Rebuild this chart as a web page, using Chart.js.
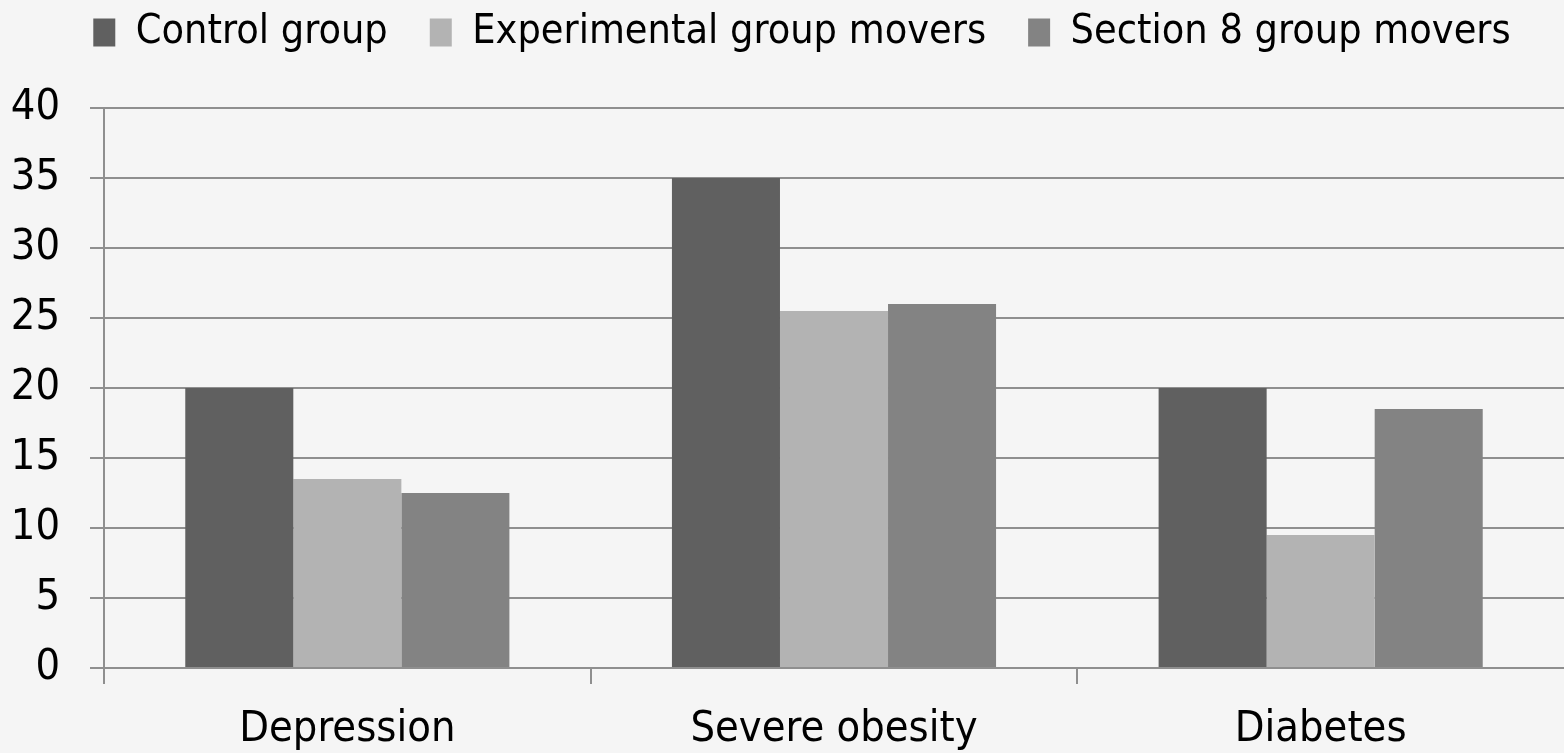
<!DOCTYPE html>
<html>
<head>
<meta charset="utf-8">
<title>Health outcomes by group</title>
<script src="https://cdn.jsdelivr.net/npm/chart.js@4.4.1/dist/chart.umd.min.js"></script>
<style>
  html, body { margin: 0; padding: 0; background: #f5f5f5; }
  #wrap { width: 1564px; height: 753px; position: relative; }
</style>
</head>
<body>
<div id="wrap"><canvas id="barChart"></canvas></div>
<script>
const categories = ['Depression', 'Severe obesity', 'Diabetes'];
const seriesNames = ['Control group', 'Experimental group movers', 'Section 8 group movers'];
const controlData = [20, 35, 20];
const experimentalData = [13.5, 25.5, 9.5];
const section8Data = [12.5, 26, 18.5];
const yTicks = [0, 5, 10, 15, 20, 25, 30, 35, 40];

const barColors = ['#606060', '#b3b3b3', '#838383'];
const gridColor = '#8f8f8f';
const fontFamily = '"DejaVu Sans Condensed", "Liberation Sans Narrow", "Open Sans", sans-serif';
const fontSize = 43;

// legend has no margin option, so pad its box after it measures itself;
// also nudge the row to the right a bit like the original
const legendGap = {
  id: 'legendGap',
  beforeInit(chart) {
    const origFit = chart.legend.fit;
    chart.legend.fit = function fit() {
      origFit.bind(chart.legend)();
      this.height += 45;
      this.lineWidths = this.lineWidths.map(w => w - 40);
    };
  }
};

// no tick mark on the far right edge (that line gets the scale context, not a tick one)
const xTickColor = (c) => (c.type === 'scale' || c.index >= categories.length ? 'rgba(0,0,0,0)' : gridColor);

window.addEventListener('DOMContentLoaded', () => {
  const ctx = document.getElementById('barChart').getContext('2d');

  new Chart(ctx, {
    type: 'bar',
    data: {
      labels: [...categories],
      datasets: [
        { label: seriesNames[0], data: [...controlData], backgroundColor: barColors[0] },
        { label: seriesNames[1], data: [...experimentalData], backgroundColor: barColors[1] },
        { label: seriesNames[2], data: [...section8Data], backgroundColor: barColors[2] }
      ]
    },
    options: {
      responsive: true,
      maintainAspectRatio: false,
      animation: false,
      layout: { padding: { top: -30, left: 0, right: 0, bottom: 0 } },
      datasets: {
        bar: { categoryPercentage: 0.666, barPercentage: 1.0, borderWidth: 0 }
      },
      plugins: {
        tooltip: { enabled: false },
        legend: {
          position: 'top',
          align: 'center',
          labels: {
            color: '#000',
            font: { family: fontFamily, size: 41 },
            boxWidth: 22,
            boxHeight: 28,
            padding: 42
          }
        }
      },
      scales: {
        x: {
          offset: true,
          grid: {
            display: true,
            offset: true,
            drawOnChartArea: false,
            drawTicks: true,
            tickLength: 16,
            color: xTickColor,
            tickColor: xTickColor,
            lineWidth: 2,
            tickWidth: 2
          },
          border: { display: true, color: gridColor, width: 2 },
          ticks: {
            color: '#000',
            font: { family: fontFamily, size: fontSize },
            padding: 20,
            maxRotation: 0
          },
          afterFit(scale) { scale.height = 85; }
        },
        y: {
          min: 0,
          max: 40,
          afterBuildTicks(scale) { scale.ticks = yTicks.map(v => ({ value: v })); },
          grid: {
            color: gridColor,
            lineWidth: 2,
            tickLength: 14
          },
          border: { display: true, color: gridColor, width: 2 },
          ticks: {
            color: '#000',
            font: { family: fontFamily, size: fontSize },
            padding: 30
          },
          afterFit(scale) { scale.width = 104; }
        }
      }
    },
    plugins: [legendGap]
  });
});
</script>
</body>
</html>
